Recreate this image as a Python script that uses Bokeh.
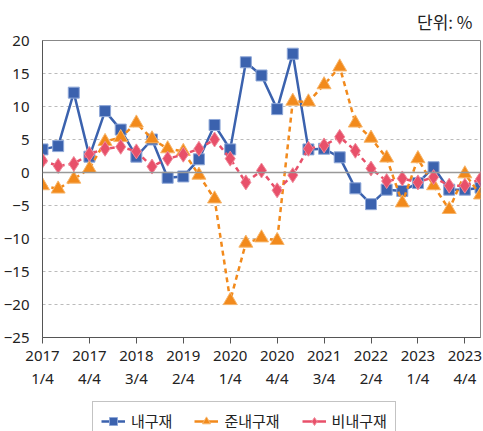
from bokeh.plotting import figure
from bokeh.layouts import column
from bokeh.models import FixedTicker, Span, Legend, LegendItem, Range1d, LinearAxis
from bokeh.embed import file_html
from bokeh.resources import INLINE

FONT = "Noto Sans CJK KR"
NUM_FONT = "Noto Sans"

quarters = list(range(29))
tick_positions = [0, 3, 6, 9, 12, 15, 18, 21, 24, 27]
tick_years = ["2017", "2017", "2018", "2019", "2020", "2020", "2021", "2022", "2023", "2023"]
tick_quarters = ["1/4", "4/4", "3/4", "2/4", "1/4", "4/4", "3/4", "2/4", "1/4", "4/4"]
y_ticks = [-25, -20, -15, -10, -5, 0, 5, 10, 15, 20]
y_tick_labels = ["−25", "−20", "−15", "−10", "−5", "0", "5", "10", "15", "20"]

durable = [3.5, 4.0, 12.1, 2.4, 9.3, 6.5, 2.4, 5.0, -0.8, -0.6, 2.0, 7.2, 3.5, 16.7,
           14.7, 9.6, 18.0, 3.5, 3.6, 2.3, -2.4, -4.8, -2.6, -2.8, -1.6, 0.8, -2.6, -2.6, -2.3]
semi_durable = [-2.0, -2.5, -1.0, 0.6, 4.7, 5.3, 7.5, 5.1, 3.6, 3.2, -0.4, -4.0, -19.4, -10.7,
                -9.9, -10.3, 10.8, 10.7, 13.3, 16.0, 7.5, 5.2, 2.2, -4.6, 2.1, -2.0, -5.6, -0.2, -3.4]
non_durable = [1.8, 1.0, 1.3, 2.8, 3.6, 3.9, 3.2, 0.9, 2.1, 2.7, 3.6, 5.0, 2.1, -1.5,
               0.3, -2.7, -0.4, 3.6, 4.1, 5.4, 3.3, 0.6, -1.3, -0.9, -1.5, -0.7, -2.0, -2.0, -1.0]
series_names = ["내구재", "준내구재", "비내구재"]

BLUE = "#3b62ae"
ORANGE = "#f28a1c"
RED = "#e8506a"

p = figure(frame_width=438, frame_height=297, output_backend="svg", toolbar_location=None,
           x_range=Range1d(0, 28), y_range=Range1d(-25, 20),
           min_border_left=34, min_border_right=3, min_border_top=32, min_border_bottom=4)

p.title.text = "단위: %"
p.title.align = "right"
p.title.offset = 8
p.title.standoff = 13
p.title.text_font = FONT
p.title.text_font_size = "17px"
p.title.text_font_style = "normal"
p.title.text_color = "#222222"

p.outline_line_color = "#888888"
p.outline_line_width = 1

# y axis
p.yaxis.ticker = FixedTicker(ticks=y_ticks)
p.yaxis.major_label_overrides = {t: l for t, l in zip(y_ticks, y_tick_labels)}
p.yaxis.major_tick_line_color = None
p.yaxis.minor_tick_line_color = None
p.yaxis.axis_line_color = "#555555"
p.yaxis.major_label_text_font = NUM_FONT
p.yaxis.major_label_text_font_size = "15px"
p.yaxis.major_label_text_color = "#222222"
p.yaxis.major_label_standoff = 7

# x axis: years
p.xaxis.ticker = FixedTicker(ticks=tick_positions)
p.xaxis.major_label_overrides = {t: l for t, l in zip(tick_positions, tick_years)}
p.xaxis.minor_tick_line_color = None
p.xaxis.major_tick_in = 0
p.xaxis.major_tick_out = 6
p.xaxis.major_tick_line_color = "#555555"
p.xaxis.axis_line_color = "#555555"
p.xaxis.major_label_text_font = NUM_FONT
p.xaxis.major_label_text_font_size = "15px"
p.xaxis.major_label_text_color = "#222222"
p.xaxis.major_label_standoff = 7

# x axis: quarters (second row)
qaxis = LinearAxis(ticker=FixedTicker(ticks=tick_positions),
                   major_label_overrides={t: l for t, l in zip(tick_positions, tick_quarters)})
qaxis.axis_line_color = None
qaxis.major_tick_line_color = None
qaxis.minor_tick_line_color = None
qaxis.major_tick_in = 0
qaxis.major_tick_out = 0
qaxis.major_label_text_font = NUM_FONT
qaxis.major_label_text_font_size = "15px"
qaxis.major_label_text_color = "#222222"
qaxis.major_label_standoff = 4
p.add_layout(qaxis, "below")

p.xgrid.grid_line_color = None
p.ygrid.ticker = FixedTicker(ticks=[-20, -15, -10, -5, 5, 10, 15])
p.ygrid.grid_line_color = "#bbbbbb"
p.ygrid.grid_line_dash = "3 3"
p.ygrid.grid_line_width = 1

p.add_layout(Span(location=0, dimension="width", line_color="#999999", line_width=1.5))

p.line(quarters, durable, line_color=BLUE, line_width=2.5)
p.scatter(quarters, durable, marker="square", size=11, fill_color=BLUE,
          line_color="#8fa8d8", line_width=1)
p.line(quarters, semi_durable, line_color=ORANGE, line_width=2.5, line_dash="5 4")
p.scatter(quarters, semi_durable, marker="triangle", size=14, fill_color=ORANGE,
          line_color="#f7b56a", line_width=1)
p.line(quarters, non_durable, line_color=RED, line_width=2.5, line_dash="5 4")
p.scatter(quarters, non_durable, marker="diamond", size=15, fill_color=RED,
          line_color="#f08a9a", line_width=1)

# legend strip: a separate small figure holding only the legend.
# Its ranges lie away from the data, so the series drawn here stay off-screen
# and serve only as legend glyph sources.
lf = figure(width=475, height=60, output_backend="svg", toolbar_location=None,
            x_range=Range1d(1000, 1001), y_range=Range1d(1000, 1001),
            min_border_left=0, min_border_right=0, min_border_top=0, min_border_bottom=0)
lf.axis.visible = False
lf.grid.visible = False
lf.outline_line_color = None

k1 = lf.line(quarters, durable, line_color=BLUE, line_width=2.5)
s1 = lf.scatter(quarters, durable, marker="square", size=9, fill_color=BLUE, line_color="#8fa8d8")
k2 = lf.line(quarters, semi_durable, line_color=ORANGE, line_width=2.5)
s2 = lf.scatter(quarters, semi_durable, marker="triangle", size=11, fill_color=ORANGE, line_color="#f7b56a")
k3 = lf.line(quarters, non_durable, line_color=RED, line_width=2.5)
s3 = lf.scatter(quarters, non_durable, marker="diamond", size=12, fill_color=RED, line_color="#f08a9a")

legend = Legend(items=[
    LegendItem(label=series_names[0], renderers=[k1, s1]),
    LegendItem(label=series_names[1], renderers=[k2, s2]),
    LegendItem(label=series_names[2], renderers=[k3, s3]),
], orientation="horizontal", location=(50, 10))
legend.label_text_font = FONT
legend.label_text_font_size = "15px"
legend.label_text_color = "#222222"
legend.border_line_color = "#888888"
legend.border_line_width = 1
legend.glyph_width = 24
legend.spacing = 22
legend.padding = 8
legend.margin = 0
legend.label_standoff = 6
lf.add_layout(legend)

layout = column(p, lf, spacing=0)

open("out.html", "w").write(file_html(layout, INLINE))
